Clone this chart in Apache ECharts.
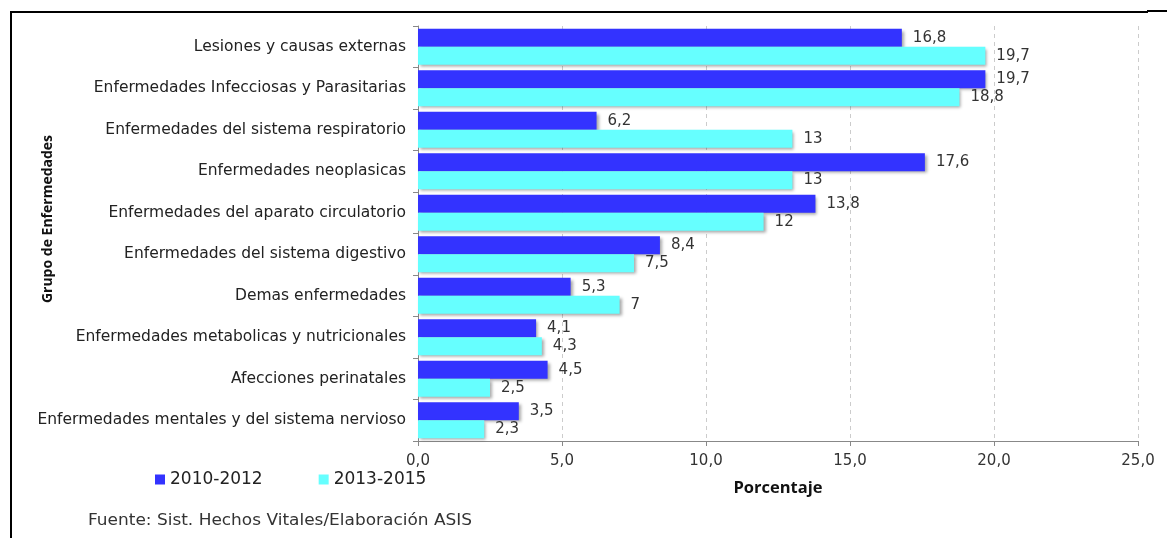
<!DOCTYPE html>
<html>
<head>
<meta charset="utf-8">
<script src="https://cdn.jsdelivr.net/npm/echarts@6/dist/echarts.min.js"></script>
<style>
  html, body { margin: 0; padding: 0; background: #fff; }
  #chart { width: 1167px; height: 538px; }
</style>
</head>
<body>
<div id="chart"></div>
<script>
// Grupos de enfermedades (de arriba hacia abajo)
const categories = [
  'Lesiones y causas externas',
  'Enfermedades Infecciosas y Parasitarias',
  'Enfermedades del sistema respiratorio',
  'Enfermedades neoplasicas',
  'Enfermedades del aparato circulatorio',
  'Enfermedades del sistema digestivo',
  'Demas enfermedades',
  'Enfermedades metabolicas y nutricionales',
  'Afecciones perinatales',
  'Enfermedades mentales y del sistema nervioso'
];
const periodos = ['2010-2012', '2013-2015'];
const valores2010 = [16.8, 19.7, 6.2, 17.6, 13.8, 8.4, 5.3, 4.1, 4.5, 3.5];
const valores2013 = [19.7, 18.8, 13, 13, 12, 7.5, 7, 4.3, 2.5, 2.3];

const coma = v => String(v).replace('.', ',');
const FONT = 'DejaVu Sans';

const chart = echarts.init(document.getElementById('chart'));

const barShadow = {
  shadowColor: 'rgba(0,0,0,0.35)',
  shadowBlur: 3,
  shadowOffsetX: 2,
  shadowOffsetY: 2
};
const labelStyle = {
  show: true,
  position: 'right',
  distance: 11,
  color: '#333',
  fontFamily: FONT,
  fontSize: 15,
  formatter: p => coma(p.value)
};

chart.setOption({
  animation: false,
  backgroundColor: '#fff',
  grid: { left: 418, right: 29, top: 26, bottom: 97 },
  legend: {
    data: periodos,
    left: 150,
    top: 466,
    itemWidth: 10,
    itemHeight: 10,
    itemGap: 56,
    icon: 'rect',
    textStyle: { fontFamily: FONT, fontSize: 17, color: '#222' }
  },
  xAxis: {
    type: 'value',
    min: 0,
    max: 25,
    interval: 5,
    name: 'Porcentaje',
    nameLocation: 'middle',
    nameGap: 39,
    nameTextStyle: { fontFamily: 'Open Sans', fontWeight: 'bold', fontSize: 16.5, color: '#111' },
    axisLine: { show: true, lineStyle: { color: '#888' } },
    axisTick: { show: true, length: 5, lineStyle: { color: '#888' } },
    axisLabel: {
      formatter: v => v.toFixed(1).replace('.', ','),
      fontFamily: FONT, fontSize: 15, color: '#333', margin: 13
    },
    splitLine: { show: true, lineStyle: { color: '#ccc', type: [4, 4] } }
  },
  yAxis: {
    type: 'category',
    data: categories,
    inverse: true,
    axisLine: { show: true, lineStyle: { color: '#888' } },
    axisTick: { show: true, length: 5, lineStyle: { color: '#888' } },
    axisLabel: { fontFamily: FONT, fontSize: 15.5, color: '#222', margin: 12 }
  },
  graphic: [
    {
      type: 'text',
      x: 48, y: 219,
      rotation: Math.PI / 2,
      style: {
        text: 'Grupo de Enfermedades',
        fontFamily: 'Open Sans', fontWeight: 'bold', fontSize: 14,
        fill: '#111', align: 'center', verticalAlign: 'middle'
      }
    },
    {
      type: 'text',
      x: 88, y: 521,
      scaleX: 1.13,
      style: {
        text: 'Fuente: Sist. Hechos Vitales/Elaboración ASIS',
        fontFamily: FONT, fontSize: 15, fill: '#333',
        align: 'left', verticalAlign: 'middle'
      }
    },
    {
      type: 'polyline',
      shape: { points: [[11, 538], [11, 12], [1148, 12]] },
      style: { stroke: '#000', lineWidth: 2, fill: null }
    },
    {
      type: 'line',
      shape: { x1: 1147, y1: 11, x2: 1167, y2: 11 },
      style: { stroke: '#000', lineWidth: 2 }
    }
  ],
  series: [
    {
      name: periodos[0],
      type: 'bar',
      data: valores2010,
      barGap: '0%',
      barCategoryGap: '13%',
      itemStyle: Object.assign({ color: '#3333ff' }, barShadow),
      label: labelStyle
    },
    {
      name: periodos[1],
      type: 'bar',
      data: valores2013,
      barGap: '0%',
      barCategoryGap: '13%',
      itemStyle: Object.assign({ color: '#66ffff' }, barShadow),
      label: labelStyle
    }
  ]
});
</script>
</body>
</html>
